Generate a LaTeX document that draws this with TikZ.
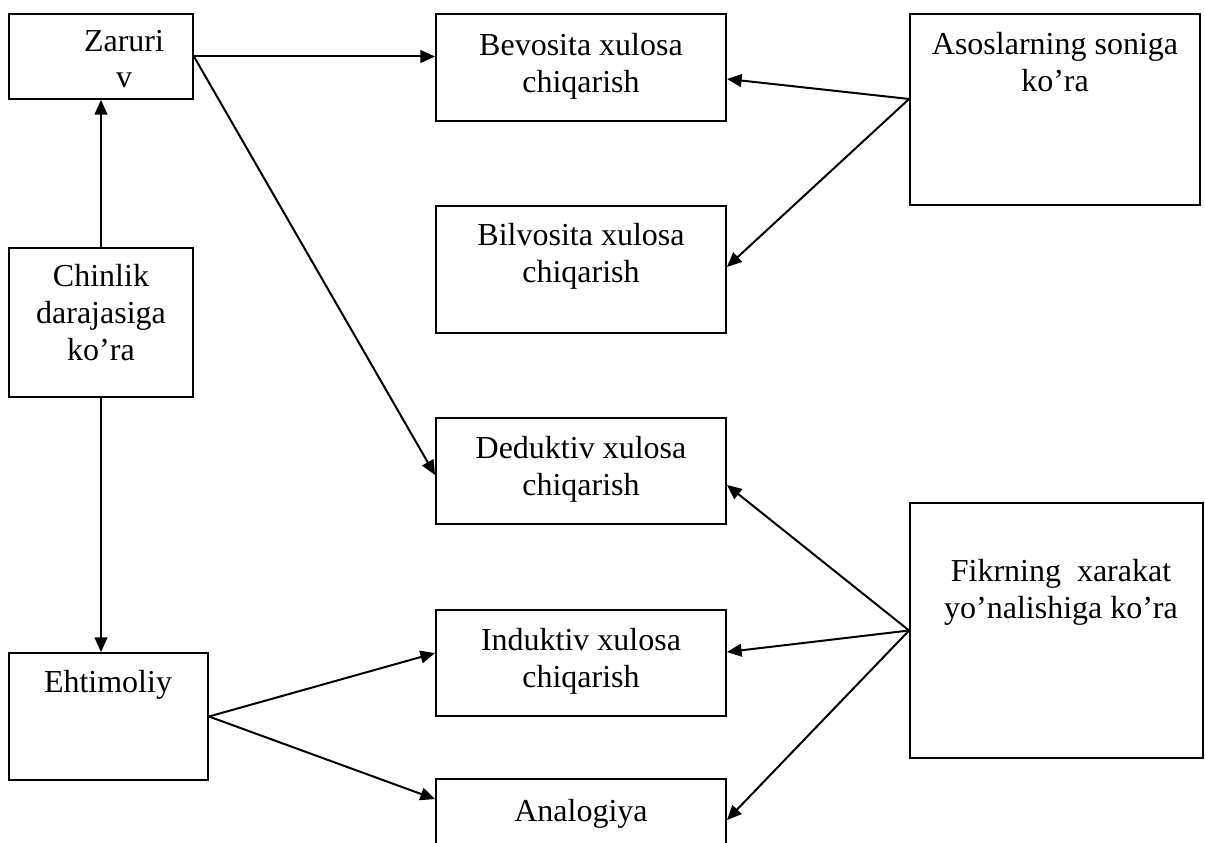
\documentclass[tikz,border=0pt]{standalone}
\usepackage{fontspec}
\setmainfont{Liberation Serif}
\usetikzlibrary{arrows.meta}
\begin{document}
\begin{tikzpicture}[x=0.75pt,y=-0.75pt,
  box/.style={draw, line width=1.4pt, inner sep=0pt, minimum width=217.5pt},
  lbl/.style={anchor=base, align=center, inner sep=0pt, font=\fontsize{24}{27.6}\selectfont},
  arr/.style={line width=1.5pt, -{Triangle[length=11pt,width=9.5pt]}}]
\useasboundingbox (0,0) rectangle (1205,842);
\clip (0,0) rectangle (1205,842);
% boxes
\node[box, minimum width=138pt, minimum height=63.75pt] (zar) at (101,56.5) {};
\node[box, minimum width=138pt, minimum height=111.75pt] (chin) at (101,322.5) {};
\node[box, minimum width=149.25pt, minimum height=95.25pt] (eht) at (108.5,716.5) {};
\node[box, minimum height=80.25pt] (bev) at (581,67.5) {};
\node[box, minimum height=95.25pt] (bil) at (581,269.5) {};
\node[box, minimum height=79.5pt] (ded) at (581,471) {};
\node[box, minimum height=79.5pt] (ind) at (581,663) {};
\node[box, minimum height=90.75pt] (ana) at (581,839.5) {};
\node[box, minimum height=143.25pt] (aso) at (1055,109.5) {};
\node[box, minimum width=219.75pt, minimum height=191.25pt] (fik) at (1056.5,630.5) {};
% texts (anchor base = last line)
\node[lbl] (tzar) at (124,88) {Zaruri\\v};
\node[lbl] (tchin) at (101,360) {Chinlik\\darajasiga\\ko’ra};
\node[lbl] (teht) at (108,692) {Ehtimoliy};
\node[lbl] (tbev) at (581,92) {Bevosita xulosa\\chiqarish};
\node[lbl] (tbil) at (581,282) {Bilvosita xulosa\\chiqarish};
\node[lbl] (tded) at (581,495) {Deduktiv xulosa\\chiqarish};
\node[lbl] (tind) at (581,687) {Induktiv xulosa\\chiqarish};
\node[lbl] (tana) at (581,821) {Analogiya};
\node[lbl] (taso) at (1055,91) {Asoslarning soniga\\ko’ra};
\node[lbl] (tfik) at (1061,618) {Fikrning~ xarakat\\yo’nalishiga ko’ra};
% connectors
\draw[arr] (zar.east) -- (zar.east -| bev.west);
\draw[arr] (zar.east) -- ([yshift=-3pt]ded.west);
\draw[arr] (chin.north) -- (zar.south);
\draw[arr] (chin.south) -- (chin.south |- eht.north);
\draw[arr] (eht.east) -- ([yshift=7.5pt]ind.west);
\draw[arr] (eht.east) -- ([yshift=-15.75pt]ana.north west);
\coordinate (asoP) at ([yshift=7.9pt]aso.west);
\draw[arr] (asoP) -- ([yshift=-8.6pt]bev.east);
\draw[arr] (asoP) -- ([yshift=1.9pt]bil.east);
\draw[arr] (fik.west) -- ([yshift=-10.5pt]ded.east);
\draw[arr] (fik.west) -- ([yshift=8.25pt]ind.east);
\draw[arr] (fik.west) -- ([yshift=-31.5pt]ana.north east);
\end{tikzpicture}
\end{document}
